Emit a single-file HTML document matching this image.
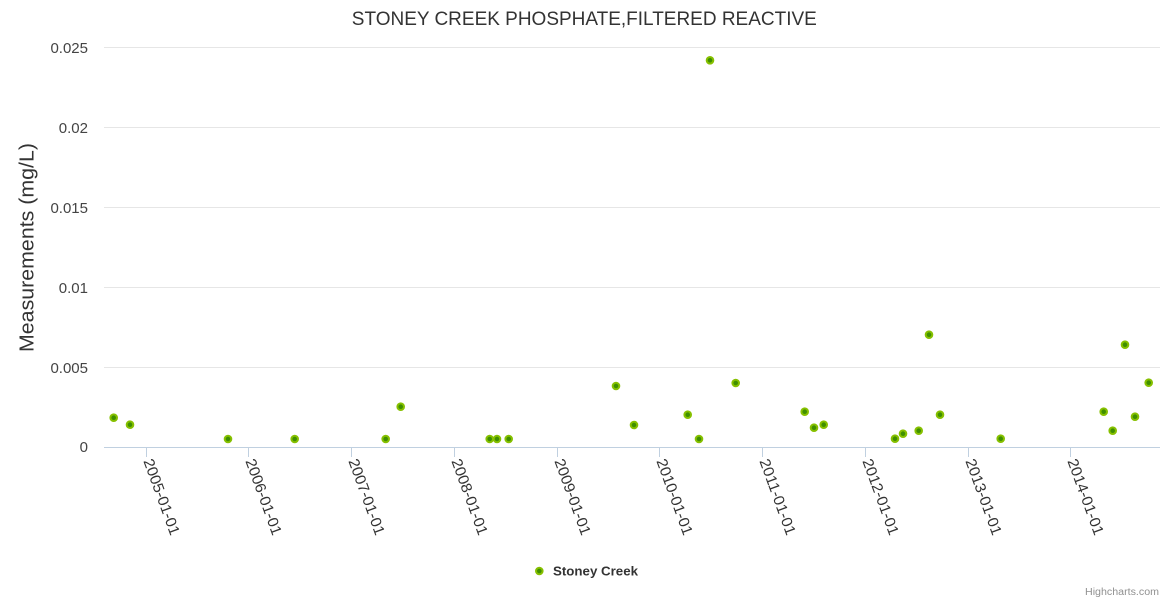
<!DOCTYPE html>
<html>
<head>
<meta charset="utf-8">
<style>
  html, body { margin: 0; padding: 0; background: #ffffff; }
  svg { display: block; font-family: "Liberation Sans", "DejaVu Sans", sans-serif; }
</style>
</head>
<body>
<svg width="1170" height="600" viewBox="0 0 1170 600" xmlns="http://www.w3.org/2000/svg">
  <rect x="0" y="0" width="1170" height="600" fill="#ffffff"/>

  <!-- Title -->
  <text x="584.3" y="25" text-anchor="middle" font-size="19" fill="#333333" textLength="465" lengthAdjust="spacingAndGlyphs">STONEY CREEK PHOSPHATE,FILTERED REACTIVE</text>

  <!-- Grid lines -->
  <g stroke="#e6e6e6" stroke-width="1">
    <line x1="104" y1="47.5" x2="1160" y2="47.5"/>
    <line x1="104" y1="127.5" x2="1160" y2="127.5"/>
    <line x1="104" y1="207.5" x2="1160" y2="207.5"/>
    <line x1="104" y1="287.5" x2="1160" y2="287.5"/>
    <line x1="104" y1="367.5" x2="1160" y2="367.5"/>
  </g>

  <!-- X axis line -->
  <line x1="104" y1="447.5" x2="1160" y2="447.5" stroke="#c0d0e0" stroke-width="1"/>

  <!-- Ticks -->
  <g stroke="#c0d0e0" stroke-width="1">
    <line x1="146.5" y1="447" x2="146.5" y2="457"/>
    <line x1="248.5" y1="447" x2="248.5" y2="457"/>
    <line x1="351.5" y1="447" x2="351.5" y2="457"/>
    <line x1="454.5" y1="447" x2="454.5" y2="457"/>
    <line x1="557.5" y1="447" x2="557.5" y2="457"/>
    <line x1="659.5" y1="447" x2="659.5" y2="457"/>
    <line x1="762.5" y1="447" x2="762.5" y2="457"/>
    <line x1="865.5" y1="447" x2="865.5" y2="457"/>
    <line x1="968.5" y1="447" x2="968.5" y2="457"/>
    <line x1="1070.5" y1="447" x2="1070.5" y2="457"/>
  </g>

  <!-- Y labels -->
  <g font-size="15" fill="#444444" text-anchor="end">
    <text x="88" y="53">0.025</text>
    <text x="88" y="133">0.02</text>
    <text x="88" y="213">0.015</text>
    <text x="88" y="293">0.01</text>
    <text x="88" y="373">0.005</text>
    <text x="88" y="452">0</text>
  </g>

  <!-- Y axis title -->
  <text transform="translate(33.3,247.5) rotate(-90)" text-anchor="middle" font-size="20" fill="#333333" textLength="209" lengthAdjust="spacingAndGlyphs">Measurements (mg/L)</text>

  <!-- X labels (rotated 70deg) -->
  <g font-size="15" fill="#333333">
    <text transform="translate(143.3,461) rotate(70)" textLength="80" lengthAdjust="spacingAndGlyphs">2005-01-01</text>
    <text transform="translate(245.3,461) rotate(70)" textLength="80" lengthAdjust="spacingAndGlyphs">2006-01-01</text>
    <text transform="translate(348.3,461) rotate(70)" textLength="80" lengthAdjust="spacingAndGlyphs">2007-01-01</text>
    <text transform="translate(451.3,461) rotate(70)" textLength="80" lengthAdjust="spacingAndGlyphs">2008-01-01</text>
    <text transform="translate(554.3,461) rotate(70)" textLength="80" lengthAdjust="spacingAndGlyphs">2009-01-01</text>
    <text transform="translate(656.3,461) rotate(70)" textLength="80" lengthAdjust="spacingAndGlyphs">2010-01-01</text>
    <text transform="translate(759.3,461) rotate(70)" textLength="80" lengthAdjust="spacingAndGlyphs">2011-01-01</text>
    <text transform="translate(862.3,461) rotate(70)" textLength="80" lengthAdjust="spacingAndGlyphs">2012-01-01</text>
    <text transform="translate(965.3,461) rotate(70)" textLength="80" lengthAdjust="spacingAndGlyphs">2013-01-01</text>
    <text transform="translate(1067.3,461) rotate(70)" textLength="80" lengthAdjust="spacingAndGlyphs">2014-01-01</text>
  </g>

  <!-- Data points -->
  <g fill="#3f8f00" stroke="#86c000" stroke-width="2">
    <circle cx="113.7" cy="417.7" r="3.3"/>
    <circle cx="130" cy="424.7" r="3.3"/>
    <circle cx="228" cy="439" r="3.3"/>
    <circle cx="294.7" cy="439" r="3.3"/>
    <circle cx="385.7" cy="439" r="3.3"/>
    <circle cx="400.7" cy="406.7" r="3.3"/>
    <circle cx="489.7" cy="439" r="3.3"/>
    <circle cx="497" cy="439" r="3.3"/>
    <circle cx="508.7" cy="439" r="3.3"/>
    <circle cx="616" cy="386" r="3.3"/>
    <circle cx="634" cy="425" r="3.3"/>
    <circle cx="687.7" cy="414.7" r="3.3"/>
    <circle cx="699" cy="439" r="3.3"/>
    <circle cx="710" cy="60.3" r="3.3"/>
    <circle cx="735.7" cy="383" r="3.3"/>
    <circle cx="804.7" cy="411.7" r="3.3"/>
    <circle cx="814" cy="427.7" r="3.3"/>
    <circle cx="823.7" cy="424.7" r="3.3"/>
    <circle cx="895" cy="438.7" r="3.3"/>
    <circle cx="903" cy="433.7" r="3.3"/>
    <circle cx="918.7" cy="430.7" r="3.3"/>
    <circle cx="929" cy="334.7" r="3.3"/>
    <circle cx="940" cy="414.7" r="3.3"/>
    <circle cx="1000.7" cy="438.7" r="3.3"/>
    <circle cx="1103.7" cy="411.7" r="3.3"/>
    <circle cx="1112.7" cy="430.7" r="3.3"/>
    <circle cx="1125" cy="344.7" r="3.3"/>
    <circle cx="1135" cy="416.7" r="3.3"/>
    <circle cx="1148.7" cy="382.7" r="3.3"/>
  </g>

  <!-- Legend -->
  <circle cx="539.3" cy="571" r="3.3" fill="#3f8f00" stroke="#86c000" stroke-width="2"/>
  <text x="553" y="575.7" font-size="13" font-weight="bold" fill="#333333" textLength="85" lengthAdjust="spacingAndGlyphs">Stoney Creek</text>

  <!-- Credits -->
  <text x="1159" y="595" text-anchor="end" font-size="10" fill="#909090" textLength="74" lengthAdjust="spacingAndGlyphs">Highcharts.com</text>
</svg>
</body>
</html>
